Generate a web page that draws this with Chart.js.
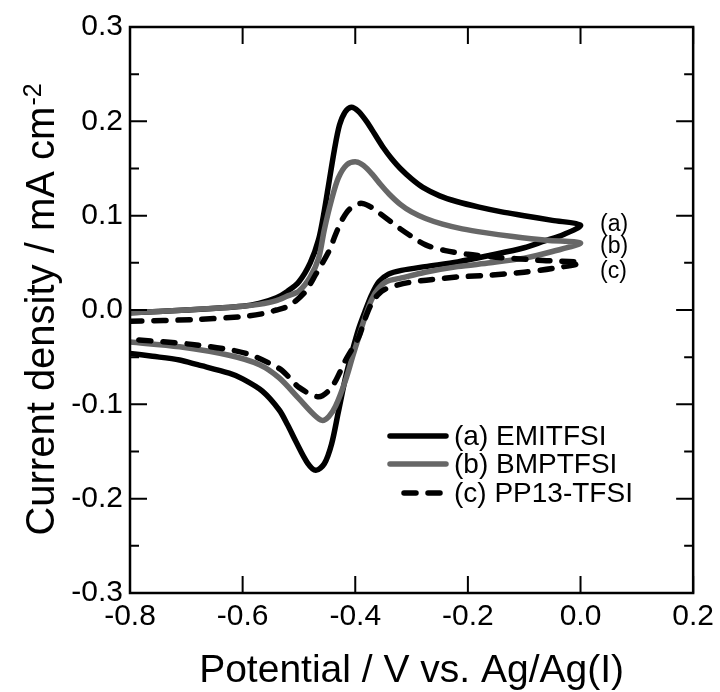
<!DOCTYPE html>
<html>
<head>
<meta charset="utf-8">
<script src="https://cdn.jsdelivr.net/npm/chart.js@4"></script>
<style>
html,body{margin:0;padding:0;background:#fff;}
canvas{display:block;}
</style>
</head>
<body>
<canvas id="c" width="720" height="692"></canvas>
<script>
// ---- data (potential V, current density mA cm^-2), loop order: forward then reverse ----
const aX = [-0.80,-0.70,-0.60,-0.571,-0.54,-0.52,-0.50,-0.48,-0.465,-0.455,-0.447,-0.437,-0.428,-0.418,-0.407,-0.395,-0.38,-0.365,-0.35,-0.335,-0.32,-0.30,-0.28,-0.25,-0.22,-0.18,-0.14,-0.10,-0.05,0.00,
            -0.03,-0.065,-0.10,-0.16,-0.218,-0.276,-0.318,-0.341,-0.358,-0.371,-0.383,-0.394,-0.405,-0.417,-0.430,-0.442,-0.455,-0.470,-0.485,-0.505,-0.52,-0.535,-0.565,-0.60,-0.624,-0.68,-0.712,-0.76,-0.80];
const aY = [-0.003,0.000,0.004,0.007,0.013,0.020,0.030,0.050,0.075,0.105,0.134,0.170,0.196,0.210,0.215,0.211,0.200,0.186,0.172,0.160,0.150,0.139,0.130,0.121,0.115,0.109,0.104,0.100,0.095,0.090,
            0.080,0.073,0.066,0.058,0.051,0.046,0.042,0.038,0.030,0.016,-0.002,-0.020,-0.043,-0.071,-0.108,-0.142,-0.163,-0.170,-0.162,-0.140,-0.122,-0.106,-0.086,-0.073,-0.067,-0.058,-0.053,-0.049,-0.046];

const bX = [-0.80,-0.70,-0.60,-0.571,-0.54,-0.52,-0.50,-0.48,-0.465,-0.455,-0.442,-0.43,-0.415,-0.398,-0.385,-0.37,-0.355,-0.34,-0.32,-0.30,-0.275,-0.245,-0.21,-0.17,-0.12,-0.06,0.00,
            -0.05,-0.10,-0.16,-0.218,-0.276,-0.318,-0.345,-0.36,-0.371,-0.383,-0.394,-0.405,-0.417,-0.435,-0.447,-0.459,-0.475,-0.50,-0.535,-0.57,-0.624,-0.712,-0.80];
const bY = [-0.003,0.000,0.004,0.006,0.010,0.015,0.020,0.035,0.055,0.085,0.117,0.140,0.154,0.157,0.153,0.144,0.133,0.123,0.112,0.104,0.097,0.091,0.086,0.082,0.078,0.074,0.071,
            0.062,0.055,0.050,0.046,0.040,0.034,0.030,0.022,0.011,-0.008,-0.029,-0.050,-0.074,-0.102,-0.113,-0.117,-0.110,-0.094,-0.072,-0.058,-0.048,-0.039,-0.034];

const cX = [-0.80,-0.682,-0.60,-0.565,-0.54,-0.523,-0.505,-0.488,-0.47,-0.447,-0.435,-0.424,-0.41,-0.391,-0.375,-0.36,-0.34,-0.32,-0.30,-0.275,-0.24,-0.20,-0.15,-0.08,0.00,
            -0.05,-0.10,-0.16,-0.218,-0.306,-0.347,-0.36,-0.371,-0.383,-0.394,-0.417,-0.442,-0.465,-0.50,-0.518,-0.535,-0.594,-0.682,-0.80];
const cY = [-0.012,-0.010,-0.007,-0.004,0.000,0.003,0.010,0.020,0.038,0.062,0.080,0.095,0.107,0.113,0.110,0.104,0.095,0.086,0.078,0.069,0.063,0.059,0.056,0.053,0.050,
            0.044,0.040,0.037,0.035,0.029,0.022,0.016,0.007,-0.010,-0.029,-0.053,-0.082,-0.092,-0.082,-0.071,-0.062,-0.046,-0.037,-0.031];

const seriesNames = ['(a) EMITFSI', '(b) BMPTFSI', '(c) PP13-TFSI'];
const endLabels = ['(a)', '(b)', '(c)'];
const xTicks = [-0.8, -0.6, -0.4, -0.2, 0.0, 0.2];
const yTicks = [-0.3, -0.2, -0.1, 0.0, 0.1, 0.2, 0.3];
const yMinor = [-0.25, -0.15, -0.05, 0.05, 0.15, 0.25];
const xTitle = 'Potential / V vs. Ag/Ag(I)';
const yTitle = 'Current density / mA cm';
const yTitleSup = '-2';

const pts = (xs, ys) => xs.map((x, i) => ({x: x, y: ys[i]}));
const FONT = "'Liberation Sans', Arial, Helvetica, sans-serif";
const GRAY = '#676767';

const decor = {
  id: 'decor',
  afterDraw(chart) {
    const ctx = chart.ctx, a = chart.chartArea;
    const xs = chart.scales.x, ys = chart.scales.y;
    ctx.save();
    ctx.strokeStyle = '#000';
    ctx.lineWidth = 2.5;
    ctx.strokeRect(a.left, a.top, a.right - a.left, a.bottom - a.top);
    ctx.lineWidth = 2;
    ctx.beginPath();
    xTicks.forEach(v => {
      const p = xs.getPixelForValue(v);
      ctx.moveTo(p, a.bottom); ctx.lineTo(p, a.bottom - 17);
      ctx.moveTo(p, a.top); ctx.lineTo(p, a.top + 17);
    });
    yTicks.forEach(v => {
      const p = ys.getPixelForValue(v);
      ctx.moveTo(a.left, p); ctx.lineTo(a.left + 17, p);
      ctx.moveTo(a.right, p); ctx.lineTo(a.right - 17, p);
    });
    yMinor.forEach(v => {
      const p = ys.getPixelForValue(v);
      ctx.moveTo(a.left, p); ctx.lineTo(a.left + 9, p);
      ctx.moveTo(a.right, p); ctx.lineTo(a.right - 9, p);
    });
    ctx.stroke();

    // axis titles
    ctx.fillStyle = '#000';
    ctx.font = '39px ' + FONT;
    ctx.textAlign = 'center';
    ctx.textBaseline = 'alphabetic';
    ctx.fillText(xTitle, (a.left + a.right) / 2, 682);

    ctx.save();
    ctx.translate(54, (a.top + a.bottom) / 2);
    ctx.rotate(-Math.PI / 2);
    ctx.font = '40px ' + FONT;
    const w1 = ctx.measureText(yTitle).width;
    ctx.font = '25px ' + FONT;
    const w2 = ctx.measureText(yTitleSup).width;
    const start = -(w1 + w2) / 2;
    ctx.textAlign = 'left';
    ctx.font = '40px ' + FONT;
    ctx.fillText(yTitle, start, 0);
    ctx.font = '25px ' + FONT;
    ctx.fillText(yTitleSup, start + w1 + 1, -13);
    ctx.restore();

    // legend
    const lx0 = 388, lx1 = 448;
    const rows = [436, 464, 493];
    const cfg = [
      {c: '#000', dash: []},
      {c: GRAY, dash: []},
      {c: '#000', dash: [12, 12]}
    ];
    ctx.lineWidth = 5.5;
    ctx.lineCap = 'round';
    cfg.forEach((s, i) => {
      ctx.strokeStyle = s.c;
      ctx.setLineDash(s.dash);
      ctx.beginPath();
      if (i === 2) { ctx.moveTo(lx0 + 16, rows[i]); ctx.lineTo(lx1 - 2, rows[i]); }
      else { ctx.moveTo(lx0 + 2, rows[i]); ctx.lineTo(lx1 - 2, rows[i]); }
      ctx.stroke();
    });
    ctx.setLineDash([]);
    ctx.fillStyle = '#000';
    ctx.font = '28px ' + FONT;
    ctx.textAlign = 'left';
    ctx.textBaseline = 'middle';
    seriesNames.forEach((n, i) => ctx.fillText(n, 454, rows[i] + 1));

    // end labels
    ctx.font = '23px ' + FONT;
    const ey = [225, 247, 272];
    endLabels.forEach((n, i) => ctx.fillText(n, 600, ey[i]));
    ctx.restore();
  }
};

new Chart(document.getElementById('c'), {
  type: 'scatter',
  data: {
    datasets: [
      {label: seriesNames[0], data: pts(aX, aY), borderColor: '#000', borderWidth: 5.5, order: 3},
      {label: seriesNames[1], data: pts(bX, bY), borderColor: GRAY, borderWidth: 5.5, order: 2},
      {label: seriesNames[2], data: pts(cX, cY), borderColor: '#000', borderWidth: 5.5, borderDash: [12, 12], borderCapStyle: 'round', order: 1}
    ].map(d => Object.assign(d, {showLine: true, pointRadius: 0, tension: 0.3, fill: false, borderJoinStyle: 'round'}))
  },
  options: {
    responsive: false,
    animation: false,
    layout: {padding: {top: 27, right: 23, left: 0, bottom: 0}},
    plugins: {legend: {display: false}, tooltip: {enabled: false}},
    scales: {
      x: {
        type: 'linear', min: -0.8, max: 0.2,
        afterBuildTicks: s => { s.ticks = xTicks.map(v => ({value: v})); },
        ticks: {callback: v => Number(v).toFixed(1), color: '#000', font: {size: 30, family: FONT}, padding: 6, maxRotation: 0, autoSkip: false},
        grid: {display: false, drawTicks: false},
        border: {display: false},
        afterFit: s => { s.height = 99; }
      },
      y: {
        type: 'linear', min: -0.3, max: 0.3,
        afterBuildTicks: s => { s.ticks = yTicks.map(v => ({value: v})); },
        ticks: {callback: v => Number(v).toFixed(1), color: '#000', font: {size: 30, family: FONT}, padding: 7, autoSkip: false},
        grid: {display: false, drawTicks: false},
        border: {display: false},
        afterFit: s => { s.width = 130; }
      }
    }
  },
  plugins: [decor]
});
</script>
</body>
</html>
